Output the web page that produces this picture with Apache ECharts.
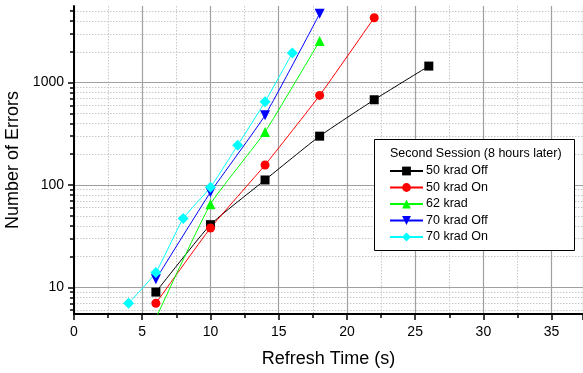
<!DOCTYPE html>
<html>
<head>
<meta charset="utf-8">
<script src="https://cdn.jsdelivr.net/npm/echarts@6/dist/echarts.min.js"></script>
<style>
html,body{margin:0;padding:0;background:#fff;}
#chart{width:583px;height:373px;}
</style>
</head>
<body>
<div id="chart"></div>
<script>
// Second session, errors vs refresh time
var FONT = '"Liberation Sans", Arial, sans-serif';

var seriesNames = ['50 krad Off', '50 krad On', '62 krad', '70 krad Off', '70 krad On'];

var off50Time = [6, 10, 14, 18, 22, 26];
var off50Errors = [9, 41, 112, 300, 680, 1450];

var on50Time = [6, 10, 14, 18, 22];
var on50Errors = [7, 38, 157, 750, 4300];

var krad62Time = [6, 10, 14, 18];
var krad62Errors = [5, 65, 330, 2550];

var off70Time = [6, 10, 14, 18];
var off70Errors = [12, 85, 480, 4700];

var on70Time = [4, 6, 8, 10, 12, 14, 16];
var on70Errors = [7, 14, 47, 95, 245, 650, 1950];

var yMajorTicks = [10, 100, 1000];
var yMinorTicks = [6, 7, 8, 9, 20, 30, 40, 50, 60, 70, 80, 90,
	200, 300, 400, 500, 600, 700, 800, 900, 2000, 3000, 4000, 5000];

var legendTitle = 'Second Session (8 hours later)';

var COLOR = {
	OFF50: '#000000',
	ON50: '#ff0000',
	K62: '#00ff00',
	OFF70: '#0000ff',
	ON70: '#00ffff'
};

function pairs(xs, ys){
	var out = [];
	for (var i = 0; i < xs.length; i++) out.push([xs[i], ys[i]]);
	return out;
}

function makeSeries(name, xs, ys, color, symbol, size, rotate){
	return {
		name: name,
		type: 'line',
		smooth: 0.15,
		clip: true,
		data: pairs(xs, ys),
		symbol: symbol,
		symbolSize: size,
		symbolRotate: rotate || 0,
		showAllSymbol: true,
		lineStyle: {color: color, width: 1},
		itemStyle: {color: color, borderWidth: 0}
	};
}

var myChart = echarts.init(document.getElementById('chart'), null, {renderer: 'canvas'});
myChart.setOption({
	animation: false,
	backgroundColor: '#fff',
	textStyle: {fontFamily: FONT},
	grid: {left: 74, right: 0, top: 6, bottom: 59, containLabel: false, outerBoundsMode: 'none'},
	xAxis: {
		type: 'value',
		min: 0,
		max: 37.3,
		interval: 5,
		name: 'Refresh Time (s)',
		nameLocation: 'middle',
		nameGap: 36,
		nameTextStyle: {fontSize: 18, color: '#000', fontFamily: FONT},
		axisLine: {lineStyle: {color: '#000', width: 2}},
		axisTick: {length: 6, lineStyle: {color: '#000', width: 1.5}},
		minorTick: {show: true, splitNumber: 2, length: 4, lineStyle: {color: '#000', width: 1.5}},
		axisLabel: {fontSize: 14, color: '#000', margin: 11, showMaxLabel: false, fontFamily: FONT},
		splitLine: {show: true, lineStyle: {color: '#a0a0a0', width: 1.2}},
		minorSplitLine: {show: true, lineStyle: {color: '#c8c8c8', width: 1, type: [1.5, 1.5]}}
	},
	yAxis: [
		{
			type: 'log',
			min: 5.5,
			max: 5600,
			name: 'Number of Errors',
			nameLocation: 'middle',
			nameGap: 44,
			nameTextStyle: {fontSize: 18, color: '#000', fontFamily: FONT},
			axisLine: {show: true, lineStyle: {color: '#000', width: 2}},
			axisTick: {show: true, length: 6, customValues: yMajorTicks, lineStyle: {color: '#000', width: 1.5}},
			axisLabel: {
				fontSize: 14, color: '#000', margin: 10, customValues: yMajorTicks, fontFamily: FONT,
				formatter: function(v){ return String(Math.round(v)); }
			},
			splitLine: {show: true, lineStyle: {color: '#a0a0a0', width: 1.2}}
		},
		{
			type: 'log',
			min: 5.5,
			max: 5600,
			position: 'left',
			axisLine: {show: false},
			axisTick: {show: true, length: 4, customValues: yMinorTicks, lineStyle: {color: '#000', width: 1.5}},
			axisLabel: {show: false},
			splitLine: {show: true, lineStyle: {color: '#c8c8c8', width: 1, type: [1.5, 1.5]}}
		}
	],
	legend: {
		orient: 'vertical',
		left: 389,
		top: 164,
		padding: 0,
		itemWidth: 33,
		itemHeight: 11,
		itemGap: 2.5,
		textStyle: {fontSize: 12.5, color: '#000', lineHeight: 14, padding: [0, 0, 0, -2], fontFamily: FONT},
		data: seriesNames
	},
	graphic: [
		{
			type: 'rect',
			z: 3,
			shape: {x: 374.5, y: 139.5, width: 200, height: 111},
			style: {fill: '#fff', stroke: '#000', lineWidth: 1}
		},
		{
			type: 'text',
			z: 5,
			left: 390,
			top: 147,
			style: {text: legendTitle, fontSize: 12.5, fill: '#000', fontFamily: FONT}
		}
	],
	series: [
		makeSeries(seriesNames[0], off50Time, off50Errors, COLOR.OFF50, 'rect', 9),
		makeSeries(seriesNames[1], on50Time, on50Errors, COLOR.ON50, 'circle', 9),
		makeSeries(seriesNames[2], krad62Time, krad62Errors, COLOR.K62, 'triangle', 10),
		makeSeries(seriesNames[3], off70Time, off70Errors, COLOR.OFF70, 'triangle', 10, 180),
		makeSeries(seriesNames[4], on70Time, on70Errors, COLOR.ON70, 'diamond', 11)
	]
});
</script>
</body>
</html>
